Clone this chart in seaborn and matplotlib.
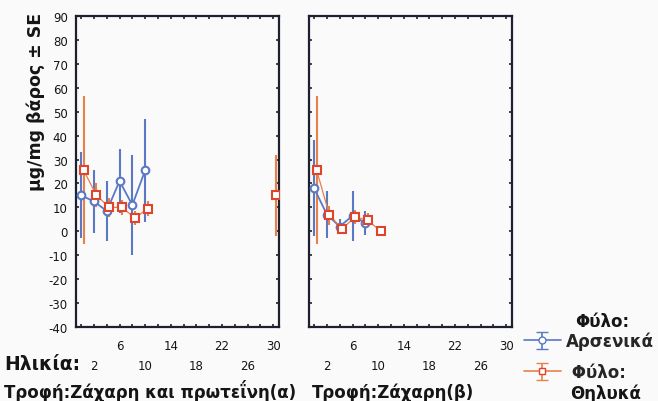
import numpy as np
import pandas as pd
import matplotlib
matplotlib.use("Agg")
import matplotlib.pyplot as plt
from matplotlib.ticker import MultipleLocator, FixedLocator
import seaborn as sns

sns.set_theme(style="white")
plt.rcParams['font.family'] = ['DejaVu Sans']
plt.rcParams['axes.unicode_minus'] = False

# ---------------- data ----------------
diet_labels = ['Τροφή:Ζάχαρη και πρωτεΐνη(α)', 'Τροφή:Ζάχαρη(β)']
sex_labels = ['Αρσενικά', 'Θηλυκά']
y_label = 'μg/mg βάρος ± SE'
x_label = 'Ηλικία:'
legend_title = 'Φύλο:'
y_ticks = list(range(-40, 91, 10))
x_ticks_upper = [6, 14, 22, 30]
x_ticks_lower = [2, 10, 18, 26]

# panel (a): sugar + protein
a_male_age = [0, 2, 4, 6, 8, 10]
a_male_mean = [15, 12.5, 8.5, 21, 11, 25.5]
a_male_se = [18, 13, 12.5, 13.5, 21, 21.5]
a_female_age = [0, 2, 4, 6, 8, 10, 30]
a_female_mean = [25.5, 15, 10, 10, 5.5, 9.5, 15]
a_female_se = [31, 5, 4, 3, 3, 3, 17]
a_female_segment = [0, 0, 0, 0, 0, 0, 1]

# panel (b): sugar only
b_male_age = [0, 2, 4, 6, 8]
b_male_mean = [18, 7, 2, 6.5, 3.5]
b_male_se = [20, 10, 3, 10.5, 5]
b_female_age = [0, 2, 4, 6, 8, 10]
b_female_mean = [25.5, 6.7, 1.1, 6, 4.6, 0]
b_female_se = [31, 4, 2, 3, 3, 0.5]
b_female_segment = [0, 0, 0, 0, 0, 0]

rows = []
def add(diet, sex, ages, means, ses, segs=None):
    if segs is None:
        segs = [0] * len(ages)
    for a, m, s, g in zip(ages, means, ses, segs):
        rows.append(dict(diet=diet, sex=sex, age=a, mean=m, se=s, seg=g))

add(diet_labels[0], sex_labels[0], a_male_age, a_male_mean, a_male_se)
add(diet_labels[0], sex_labels[1], a_female_age, a_female_mean, a_female_se, a_female_segment)
add(diet_labels[1], sex_labels[0], b_male_age, b_male_mean, b_male_se)
add(diet_labels[1], sex_labels[1], b_female_age, b_female_mean, b_female_se, b_female_segment)
df = pd.DataFrame(rows)

# ---------------- style ----------------
W, H = 658, 402
BLUE = '#5a78c4'
ORANGE = '#e8804a'
RED = '#e0452c'
DARK = '#1e2030'
BG = '#fafafa'
TXT = '#151515'
dodge = {sex_labels[0]: 0.0, sex_labels[1]: 0.4}
styles = {
    sex_labels[0]: dict(color=BLUE, marker='o', mfc='white', mec=BLUE, lw=1.3),
    sex_labels[1]: dict(color=ORANGE, marker='s', mfc='white', mec=RED, lw=0.9),
}

fig = plt.figure(figsize=(W / 100, H / 100), dpi=100, facecolor=BG)

def px_axes(x0, y0, x1, y1):
    return fig.add_axes([x0 / W, 1 - y1 / H, (x1 - x0) / W, (y1 - y0) / H])

axes = [px_axes(76, 17, 279, 328), px_axes(309, 17, 512, 328)]

for i, (ax, diet) in enumerate(zip(axes, diet_labels)):
    ax.set_facecolor(BG)
    for sex in sex_labels:
        sub = df[(df.diet == diet) & (df.sex == sex)].copy()
        sub['xpos'] = sub['age'] + dodge[sex]
        st = styles[sex]
        ax.errorbar(sub['xpos'], sub['mean'], yerr=sub['se'], fmt='none',
                    ecolor=st['color'], elinewidth=1.5, capsize=0, zorder=2)
        sns.lineplot(data=sub, x='xpos', y='mean', units='seg', estimator=None,
                     ax=ax, color=st['color'], lw=st['lw'], marker=st['marker'],
                     markersize=5.5, markerfacecolor=st['mfc'],
                     markeredgecolor=st['mec'], markeredgewidth=1.5,
                     legend=False, zorder=3)
    ax.set_xlim(-0.8, 30.9)
    ax.set_ylim(-40, 90)
    ax.set_xlabel('')
    ax.set_ylabel('')
    ax.yaxis.set_major_locator(FixedLocator(y_ticks))
    ax.xaxis.set_major_locator(FixedLocator(x_ticks_upper))
    ax.xaxis.set_minor_locator(MultipleLocator(2))
    ax.set_xticklabels([str(t) for t in x_ticks_upper])
    ax.tick_params(axis='x', which='both', direction='in', top=True, bottom=True,
                   length=2.5, width=1.2, color=DARK, pad=9, labelsize=8.5,
                   labelcolor=TXT)
    ax.tick_params(axis='y', which='both', direction='in', left=True, right=True,
                   length=2.5, width=1.2, color=DARK, pad=6, labelsize=8.5,
                   labelcolor=TXT)
    if i == 1:
        ax.tick_params(axis='y', labelleft=False)
    for sp in ax.spines.values():
        sp.set_color(DARK)
        sp.set_linewidth(1.6)
    sec = ax.secondary_xaxis('bottom')
    sec.set_xticks(x_ticks_lower)
    sec.set_xticklabels([str(t) for t in x_ticks_lower])
    sec.tick_params(length=0, pad=23, labelsize=8.5, labelcolor=TXT)
    sec.spines['bottom'].set_visible(False)

# texts
fig.text(36 / W, 1 - 102 / H, y_label, rotation=90, ha='center', va='center',
         fontsize=12.5, fontweight='bold', color=TXT)
fig.text(4 / W, 1 - 365 / H, x_label, ha='left', va='center',
         fontsize=13.5, fontweight='bold', color=TXT)
fig.text(4 / W, 1 - 398 / H, diet_labels[0], ha='left', va='baseline',
         fontsize=12, fontweight='bold', color=TXT)
fig.text(312 / W, 1 - 398 / H, diet_labels[1], ha='left', va='baseline',
         fontsize=12, fontweight='bold', color=TXT)

# legend
hax = fig.add_axes([0, 0, 0.01, 0.01])
hm = hax.errorbar([0], [0], yerr=[1], color=BLUE, marker='o', mfc='white',
                  mec=BLUE, ms=5, capsize=4, lw=1.2)
hf = hax.errorbar([0], [0], yerr=[1], color=ORANGE, marker='s', mfc='white',
                  mec=RED, ms=5, capsize=4, lw=1.2)
hax.set_visible(False)

fig.text(575 / W, 1 - 322 / H, legend_title, ha='left', va='center',
         fontsize=12, fontweight='bold', color=TXT)
fig.legend([hm], [sex_labels[0]], loc='center left',
           bbox_to_anchor=(524 / W, 1 - 342 / H), frameon=False,
           handlelength=2.2, handletextpad=0.3, borderpad=0, borderaxespad=0,
           prop=dict(size=12, weight='bold'))
fig.legend([hf], [' ' + legend_title], loc='center left',
           bbox_to_anchor=(524 / W, 1 - 373 / H), frameon=False,
           handlelength=2.2, handletextpad=0.3, borderpad=0, borderaxespad=0,
           prop=dict(size=12, weight='bold'))
fig.text(570 / W, 1 - 394 / H, sex_labels[1], ha='left', va='center',
         fontsize=12, fontweight='bold', color=TXT)

fig.savefig('out.png', dpi=100, facecolor=BG)
